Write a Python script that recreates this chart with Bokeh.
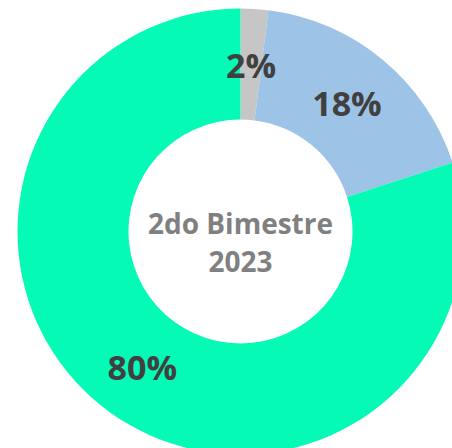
import math
from bokeh.plotting import figure
from bokeh.models import Range1d, ColumnDataSource
from bokeh.core.properties import value
from bokeh.embed import file_html
from bokeh.resources import INLINE

# Data
categories = ["Gris", "Azul", "Verde"]
shares = [2, 18, 80]
labels = ["2%", "18%", "80%"]
colors = ["#c6c6c6", "#9dc3e6", "#05fab6"]
center_title = ["2do Bimestre", "2023"]

W, H = 452, 448
cx, cy = 240, H - 231
r_out, r_in = 223, 112
r_lab = 167

total = sum(shares)
starts, ends, lx, ly = [], [], [], []
acc = 0.0
for s in shares:
    a0 = math.pi / 2 - 2 * math.pi * acc / total
    acc += s
    a1 = math.pi / 2 - 2 * math.pi * acc / total
    starts.append(a1)
    ends.append(a0)
    mid = (a0 + a1) / 2
    lx.append(cx + r_lab * math.cos(mid))
    ly.append(cy + r_lab * math.sin(mid))

src = ColumnDataSource(dict(cat=categories, start=starts, end=ends, color=colors,
                            lx=lx, ly=ly, label=labels))

p = figure(width=W, height=H, output_backend="svg", toolbar_location=None,
           x_range=Range1d(0, W), y_range=Range1d(0, H),
           x_axis_location=None, y_axis_location=None, min_border=0)
p.grid.visible = False
p.outline_line_color = None
p.background_fill_color = "white"
p.border_fill_color = "white"

p.annular_wedge(x=cx, y=cy, inner_radius=r_in, outer_radius=r_out,
                start_angle="start", end_angle="end", color="color",
                line_color=None, source=src)

p.text(x="lx", y="ly", text="label", source=src, text_align="center",
       text_baseline="middle", text_font=value("Open Sans"), text_font_style="bold",
       text_font_size="34px", text_color="#404040")

p.text(x=[cx, cx], y=[cy + 9, cy - 30], text=center_title, text_align="center",
       text_baseline="middle", text_font=value("Open Sans"), text_font_style="bold",
       text_font_size="28px", text_color="#808080")

open("out.html", "w").write(file_html(p, INLINE))
